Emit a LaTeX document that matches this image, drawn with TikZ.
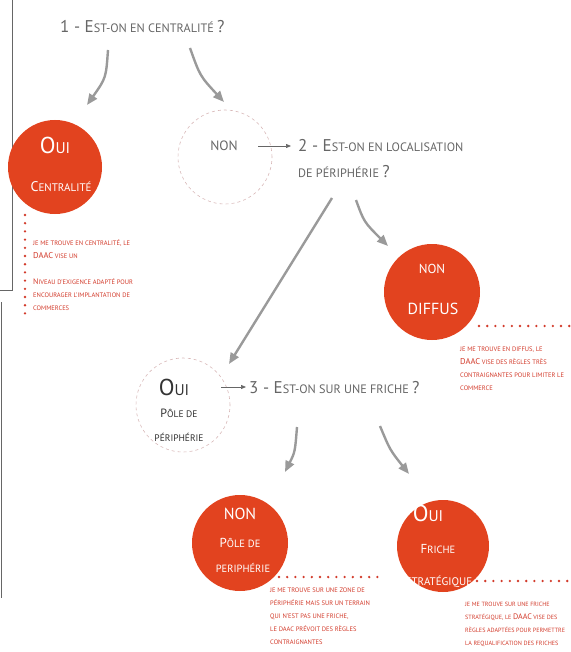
\documentclass[tikz,border=0pt]{standalone}
\usepackage{fontspec}
\setmainfont{PT Sans}
\usetikzlibrary{arrows.meta}
\newcommand\fz[1]{\fontsize{#1}{13}\selectfont}
\definecolor{cred}{HTML}{E2431F}
\definecolor{tred}{HTML}{D23A2A}
\definecolor{tgray}{HTML}{666666}
\definecolor{agray}{HTML}{9A9A9A}
\definecolor{dpink}{HTML}{D8B8B8}
\definecolor{dark}{HTML}{333333}
\begin{document}
\begin{tikzpicture}[x=1pt,y=-1pt,
 redcirc/.style={circle,fill=cred,minimum size=#1,inner sep=0},
 dashcirc/.style={circle,draw=dpink,dashed,line width=0.6pt,minimum size=#1,inner sep=0},
 bigarrow/.style={agray,line width=2.4pt,-{Triangle[length=11pt,width=9pt]}},
 smallarrow/.style={tgray,line width=0.7pt,-{Triangle[length=5pt,width=4pt]}},
 reddots/.style={tred,line width=2.6pt,line cap=round,dash pattern=on 0pt off 8.2pt},
 note/.style={anchor=north west,align=left,inner sep=0,text=tred,font=\fz{6.5}},
 question/.style={anchor=base west,inner sep=0,text=tgray},
 ctext/.style={anchor=base,inner sep=0,text=white},
 frameline/.style={draw=gray!80!black,line width=0.8pt}]
\useasboundingbox (0,0) rectangle (570,652);
% frame artefacts
\coordinate (f1) at (12,0); \coordinate (f2) at (12,290); \coordinate (f3) at (0,290);
\draw[frameline] (f1) -- (f2) -- (f3);
\coordinate (f4) at (1,302); \coordinate (f5) at (1,598);
\draw[frameline] (f4) -- (f5);
% circles
\node[redcirc=94pt] (c1) at (55,167) {};
\node[dashcirc=94pt] (c2) at (225,157) {};
\node[redcirc=96pt] (c3) at (432,292) {};
\node[dashcirc=94pt] (c4) at (183,405) {};
\node[redcirc=96pt] (c5) at (240,543) {};
\node[redcirc=92pt] (c6) at (443,546) {};
% questions
\node[question] (q1) at (60,33) {{\fz{17}1 - E}{\fz{12.2}ST-ON EN CENTRALITÉ }{\fz{17}?}};
\node[question] (q2a) at (298,152) {{\fz{17}2 - E}{\fz{12.2}ST-ON EN LOCALISATION}};
\node[question] (q2b) at (298,178) {{\fz{12.2}DE PÉRIPHÉRIE }{\fz{17}?}};
\node[question] (q3) at (249,393) {{\fz{17}3 - E}{\fz{12.2}ST-ON SUR UNE FRICHE }{\fz{17}?}};
% circle texts
\node[ctext] (t1a) at (55,154) {{\fz{23}O}{\fz{15.5}UI}};
\node[ctext] (t1b) at (61,192) {{\fz{14}C}{\fz{11}ENTRALITÉ}};
\node[ctext,text=tgray] (t2) at (224,151) {\fz{13.5}NON};
\node[ctext] (t3a) at (432,273) {\fz{13}NON};
\node[ctext] (t3b) at (433,314) {\fz{16}DIFFUS};
\node[ctext,text=dark] (t4a) at (174,395) {{\fz{23}O}{\fz{15.5}UI}};
\node[ctext,text=dark] (t4b) at (179,417) {{\fz{12}P}{\fz{9.5}ÔLE DE}};
\node[ctext,text=dark] (t4c) at (179,441) {\fz{9.5}PÉRIPHÉRIE};
\node[ctext] (t5a) at (240,519) {\fz{16}NON};
\node[ctext] (t5b) at (240,547) {{\fz{13}P}{\fz{10.5}ÔLE DE}};
\node[ctext] (t5c) at (243,572) {\fz{10.5}PERIPHÉRIE};
\node[ctext] (t6a) at (428,521) {{\fz{23}O}{\fz{15.5}UI}};
\node[ctext] (t6b) at (438,553) {{\fz{13}F}{\fz{10.5}RICHE}};
\node[ctext] (t6c) at (439,585) {\fz{11}STRATÉGIQUE};
% notes
\node[note] (n1) at (33,240) {JE ME TROUVE EN CENTRALITÉ, LE\\ {\fz{8.5}DAAC} VISE UN\\[13pt] {\fz{8}N}IVEAU D'EXIGENCE ADAPTÉ POUR\\ ENCOURAGER L'IMPLANTATION DE\\ COMMERCES};
\node[note] (n3) at (460,347) {JE ME TROUVE EN DIFFUS, LE\\ {\fz{8.5}DAAC} VISE DES RÈGLES TRÈS\\ CONTRAIGNANTES POUR LIMITER LE\\ COMMERCE};
\node[note] (n5) at (270,588) {JE ME TROUVE SUR UNE ZONE DE\\ PÉRIPHÉRIE MAIS SUR UN TERRAIN\\ QUI N'EST PAS UNE FRICHE,\\ LE DAAC PRÉVOIT DES RÈGLES\\ CONTRAIGNANTES};
\node[note,font=\fz{6.1}] (n6) at (465,602) {JE ME TROUVE SUR UNE FRICHE\\ STRATÉGIQUE, LE {\fz{8}DAAC} VISE DES\\ RÈGLES ADAPTÉES POUR PERMETTRE\\ LA REQUALIFICATION DES FRICHES};
% dotted lines
\coordinate (d1a) at (25,215); \coordinate (d1b) at (25,316);
\coordinate (d3a) at (479,326); \coordinate (d3b) at (572,326);
\coordinate (d5a) at (279,577); \coordinate (d5b) at (378,577);
\coordinate (d6a) at (477,581); \coordinate (d6b) at (572,581);
\draw[reddots] (d1a) -- (d1b);
\draw[reddots] (d3a) -- (d3b);
\draw[reddots] (d5a) -- (d5b);
\draw[reddots] (d6a) -- (d6b);
% big arrows
\coordinate (a1s) at (108,50); \coordinate (a1e) at (87,105);
\coordinate (a2s) at (190,48); \coordinate (a2e) at (224,102);
\coordinate (a3s) at (332,198); \coordinate (a3e) at (229,364);
\coordinate (a4s) at (356,200); \coordinate (a4e) at (388,246);
\coordinate (a5s) at (297,427); \coordinate (a5e) at (285,472);
\coordinate (a6s) at (380,426); \coordinate (a6e) at (409,474);
\draw[bigarrow] (a1s) .. controls (106,78) .. (a1e);
\draw[bigarrow] (a2s) .. controls (200,76) .. (a2e);
\draw[bigarrow] (a3s) -- (a3e);
\draw[bigarrow] (a4s) .. controls (364,222) .. (a4e);
\draw[bigarrow] (a5s) .. controls (295,452) .. (a5e);
\draw[bigarrow] (a6s) .. controls (390,450) .. (a6e);
% small arrows
\coordinate (s1s) at (258,146); \coordinate (s1e) at (291,146);
\coordinate (s2s) at (221,387); \coordinate (s2e) at (246,387);
\draw[smallarrow] (s1s) -- (s1e);
\draw[smallarrow] (s2s) -- (s2e);
\end{tikzpicture}
\end{document}
